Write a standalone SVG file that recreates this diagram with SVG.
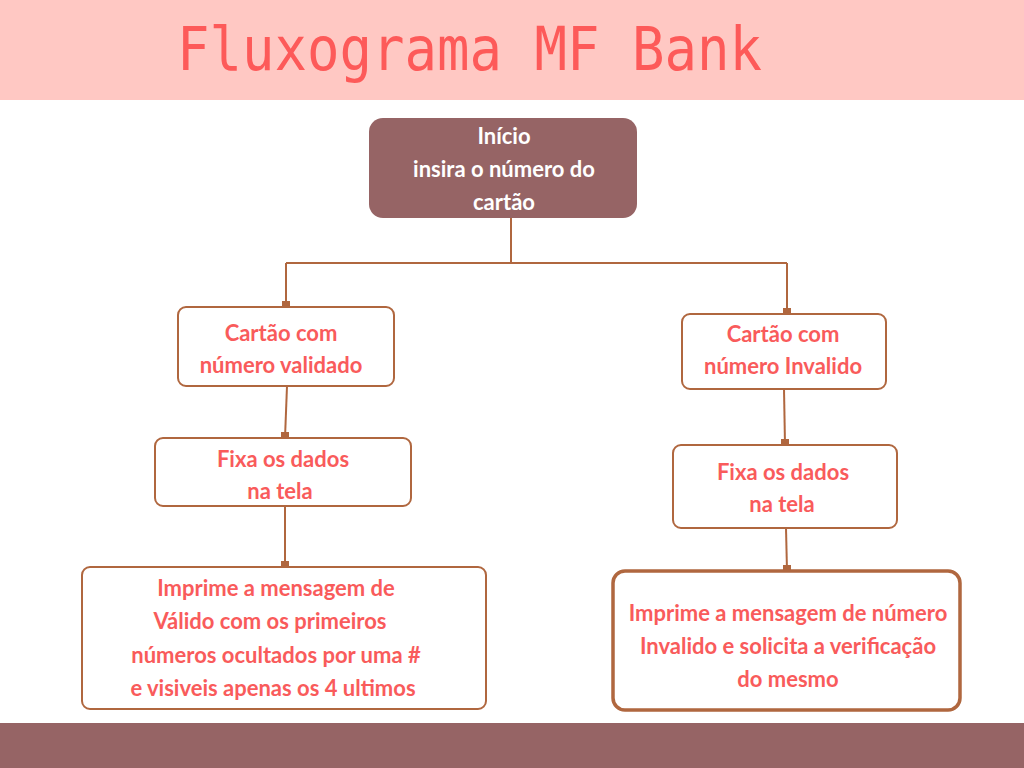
<svg xmlns="http://www.w3.org/2000/svg" width="1024" height="768" viewBox="0 0 1024 768">
<defs>
<style>
.box{fill:#ffffff;stroke:#b0673f;stroke-width:2}
.boxb{fill:#ffffff;stroke:#b0673f;stroke-width:3.5}
.t{font-family:Lato,"Open Sans","Liberation Sans",sans-serif;font-weight:bold;font-size:22px;fill:#f95b5b;text-anchor:middle}
.tw{fill:#ffffff}
.c{fill:none;stroke:#b0673f;stroke-width:2}
</style>
<marker id="sq" viewBox="0 0 8 8" refX="4" refY="6" markerWidth="8" markerHeight="8" markerUnits="userSpaceOnUse" orient="0">
<rect x="0" y="0" width="8" height="8" fill="#b0673f"/>
</marker>
</defs>
<rect x="0" y="0" width="1024" height="100" fill="#ffc8c3"/>
<rect x="0" y="723" width="1024" height="45" fill="#966465"/>
<text x="177" y="70" font-family="'DejaVu Sans Mono','Liberation Mono',monospace" font-size="60" fill="#fd5a59" textLength="585" lengthAdjust="spacingAndGlyphs">Fluxograma MF Bank</text>

<g id="connectors">
<path class="c" d="M511,218 V263 M286,263 H787"/>
<path class="c" d="M286,263 V307" marker-end="url(#sq)"/>
<path class="c" d="M787,263 V314" marker-end="url(#sq)"/>
<path class="c" d="M287,386 L285,438" marker-end="url(#sq)"/>
<path class="c" d="M784,389 L785,445" marker-end="url(#sq)"/>
<path class="c" d="M285,506 L285,567" marker-end="url(#sq)"/>
<path class="c" d="M786,528 L787,571" marker-end="url(#sq)"/>
</g>

<g id="inicio">
<rect x="369" y="118" width="268" height="100" rx="14" fill="#966465"/>
<text class="t tw" x="504" y="144">Início</text>
<text class="t tw" x="504" y="177">insira o número do</text>
<text class="t tw" x="504" y="210">cartão</text>
</g>

<g id="validado">
<rect class="box" x="178" y="307" width="216" height="79" rx="8"/>
<text class="t" x="281" y="341">Cartão com</text>
<text class="t" x="281" y="373">número validado</text>
</g>

<g id="invalido">
<rect class="box" x="682" y="314" width="204" height="75" rx="8"/>
<text class="t" x="783" y="342">Cartão com</text>
<text class="t" x="783" y="374">número Invalido</text>
</g>

<g id="fixa1">
<rect class="box" x="155" y="438" width="256" height="68" rx="8"/>
<text class="t" x="283" y="467">Fixa os dados</text>
<text class="t" x="280" y="499">na tela</text>
</g>

<g id="fixa2">
<rect class="box" x="673" y="445" width="224" height="83" rx="8"/>
<text class="t" x="783" y="480">Fixa os dados</text>
<text class="t" x="782" y="512">na tela</text>
</g>

<g id="msg-valido">
<rect class="box" x="82" y="567" width="404" height="142" rx="8"/>
<text class="t" x="276" y="596">Imprime a mensagem de</text>
<text class="t" x="270" y="629">Válido com os primeiros</text>
<text class="t" x="276" y="663">números ocultados por uma #</text>
<text class="t" x="273" y="696">e visiveis apenas os 4 ultimos</text>
</g>

<g id="msg-invalido">
<rect class="boxb" x="613" y="571" width="347" height="139" rx="12"/>
<text class="t" x="788" y="621">Imprime a mensagem de número</text>
<text class="t" x="788" y="654">Invalido e solicita a verificação</text>
<text class="t" x="788" y="687">do mesmo</text>
</g>
</svg>
